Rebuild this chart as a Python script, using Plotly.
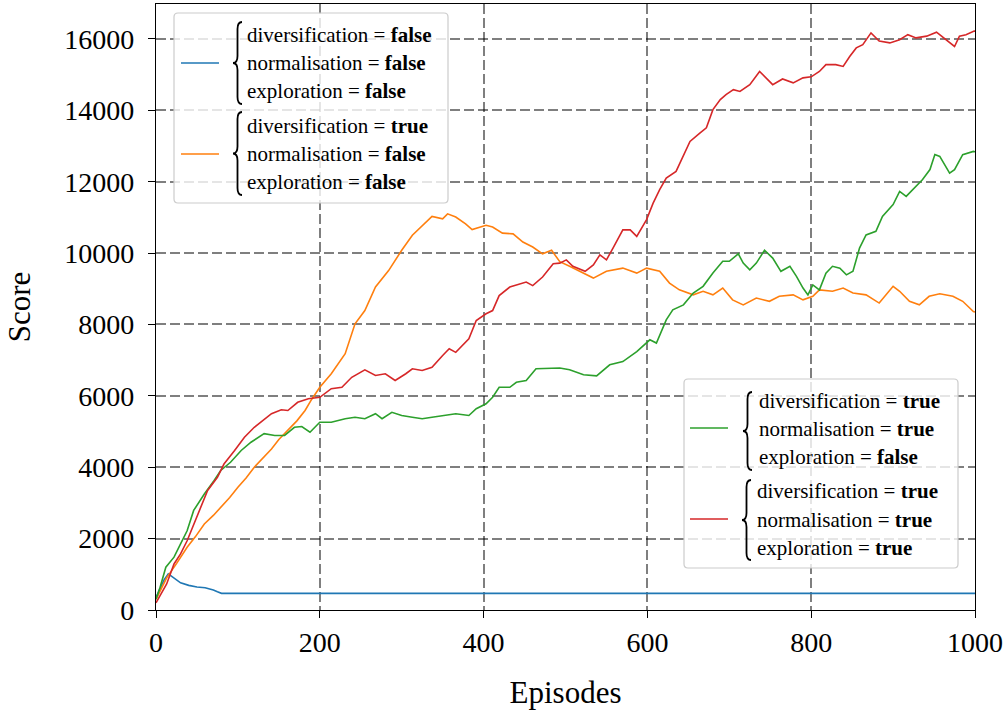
import plotly.graph_objects as go

# ---------------- data ----------------
blue_ep = [0, 5, 10, 15, 20, 25, 30, 40, 50, 60, 65, 70, 75, 80, 1000]
blue_val = [350, 600, 850, 1010, 920, 840, 760, 690, 645, 625, 600, 560, 510, 467, 467]

orange_ep = [0, 5, 13, 25, 38, 48, 59, 70, 79, 90, 100, 110, 120, 130, 141, 150, 161, 172, 182,
             190, 200, 214, 231, 243, 255, 268, 284, 300, 313, 325, 337, 350, 356, 366, 378, 386,
             403, 411, 423, 436, 448, 460, 472, 483, 493, 505, 521, 534, 550, 570, 587, 599,
             615, 627, 639, 656, 668, 680, 692, 704, 717, 733, 749, 761, 778, 790, 802, 810,
             826, 839, 851, 867, 883, 900, 908, 920, 932, 944, 957, 973, 985, 998, 1000]
orange_val = [300, 520, 900, 1300, 1760, 2050, 2410, 2650, 2880, 3150, 3440, 3700, 4000, 4250,
              4510, 4780, 5030, 5300, 5590, 5900, 6240, 6620, 7180, 8020, 8390, 9050, 9510,
              10080, 10500, 10780, 11030, 10960, 11100, 11010, 10820, 10660, 10780, 10730,
              10560, 10540, 10310, 10170, 9980, 10080, 9760, 9630, 9440, 9300, 9490, 9580,
              9440, 9580, 9490, 9160, 8970, 8830, 8930, 8830, 9020, 8690, 8550, 8740, 8650,
              8790, 8830, 8690, 8790, 8970, 8930, 9020, 8880, 8830, 8600, 9070, 8930, 8650,
              8550, 8790, 8860, 8790, 8650, 8360, 8350]

green_ep = [0, 5, 12, 22, 30, 38, 46, 59, 71, 79, 91, 104, 116, 132, 145, 157, 169, 178, 188,
            200, 214, 231, 243, 255, 268, 276, 288, 300, 313, 325, 337, 354, 366, 382, 391,
            403, 411, 419, 432, 440, 452, 464, 476, 489, 493, 505, 522, 538, 554, 570, 587,
            603, 611, 623, 631, 644, 656, 668, 680, 692, 700, 711, 717, 725, 733, 743, 753,
            763, 774, 782, 790, 796, 802, 810, 818, 826, 835, 843, 851, 859, 867, 879, 887,
            900, 908, 916, 924, 936, 945, 951, 957, 969, 975, 985, 998, 1000]
green_val = [300, 640, 1200, 1480, 1850, 2220, 2790, 3250, 3630, 3910, 4140, 4470, 4700, 4940,
             4890, 4890, 5120, 5140, 4980, 5260, 5260, 5360, 5400, 5360, 5500, 5360, 5540,
             5450, 5400, 5360, 5400, 5450, 5500, 5450, 5640, 5780, 5960, 6240, 6240, 6380,
             6430, 6760, 6760, 6760, 6780, 6730, 6590, 6560, 6870, 6960, 7240, 7570, 7480,
             8130, 8410, 8550, 8880, 9070, 9440, 9770, 9770, 9980, 9720, 9530, 9720, 10080,
             9860, 9490, 9630, 9350, 9020, 8830, 9110, 8970, 9440, 9630, 9580, 9390, 9490,
             10140, 10510, 10610, 11030, 11360, 11730, 11590, 11780, 12060, 12340, 12760,
             12710, 12240, 12340, 12760, 12850, 12840]

red_ep = [0, 5, 13, 22, 30, 38, 50, 63, 75, 83, 96, 108, 120, 128, 141, 153, 161, 173, 186,
          200, 214, 227, 239, 255, 268, 280, 292, 305, 313, 325, 337, 350, 358, 366, 382, 391,
          403, 411, 419, 432, 444, 452, 460, 472, 485, 493, 501, 509, 524, 534, 542, 550, 558,
          570, 579, 587, 599, 607, 615, 623, 635, 644, 652, 664, 672, 680, 689, 696, 705,
          713, 725, 737, 745, 753, 765, 778, 790, 800, 810, 818, 830, 839, 847, 855, 863,
          873, 883, 896, 908, 918, 928, 941, 953, 965, 975, 981, 989, 999, 1000]
red_val = [200, 400, 730, 1290, 1570, 1940, 2600, 3350, 3720, 4090, 4470, 4840, 5120, 5260,
           5500, 5610, 5590, 5820, 5920, 5960, 6200, 6240, 6520, 6730, 6570, 6620, 6430, 6620,
           6760, 6710, 6800, 7130, 7320, 7220, 7600, 8110, 8300, 8390, 8810, 9050, 9140, 9190,
           9090, 9330, 9700, 9720, 9810, 9630, 9490, 9670, 9950, 9810, 10140, 10650, 10650,
           10470, 10940, 11400, 11780, 12100, 12290, 12710, 13130, 13360, 13510, 14020, 14300,
           14440, 14580, 14530, 14720, 15090, 14910, 14720, 14880, 14770, 14910, 14940, 15090,
           15280, 15280, 15230, 15510, 15750, 15840, 16170, 15940, 15890, 15980, 16120, 16030,
           16080, 16190, 15980, 15790, 16080, 16120, 16220, 16220]

series_x = [blue_ep, orange_ep, green_ep, red_ep]
series_y = [blue_val, orange_val, green_val, red_val]
colors = ["#1f77b4", "#ff7f0e", "#2ca02c", "#d62728"]
settings = [("false", "false", "false"),
            ("true", "false", "false"),
            ("true", "true", "false"),
            ("true", "true", "true")]
setting_names = ["diversification", "normalisation", "exploration"]

x_ticks = [0, 200, 400, 600, 800, 1000]
y_ticks = [0, 2000, 4000, 6000, 8000, 10000, 12000, 14000, 16000]
y_tick_labels = [str(v) for v in y_ticks]

# ---------------- figure ----------------
FONT = "Liberation Serif"
W, H = 1006, 715
L, R, T, B = 156, 975, 4, 610


def px(xp):
    return (xp - L) / (R - L)


def py(yp):
    return (B - yp) / (B - T)


fig = go.Figure()
for xs, ys, c in zip(series_x, series_y, colors):
    fig.add_trace(go.Scatter(x=xs, y=ys, mode="lines",
                             line=dict(color=c, width=1.6), showlegend=False))

grid = dict(showgrid=True, gridcolor="rgba(0,0,0,0.5)", gridwidth=1.5,
            griddash="10px,4px")
fig.update_layout(
    width=W, height=H,
    margin=dict(l=L, r=W - R, t=T, b=H - B, autoexpand=False),
    paper_bgcolor="white", plot_bgcolor="white",
    font=dict(family=FONT, color="black"),
    xaxis=dict(range=[0, 1000], tickvals=x_ticks, ticks="outside", ticklen=7,
               tickwidth=1.2, tickcolor="black", showline=True, linecolor="black",
               linewidth=1.3, mirror=True, zeroline=False,
               tickfont=dict(family=FONT, size=28),
               title=dict(text="Episodes", font=dict(family=FONT, size=31), standoff=24),
               **grid),
    yaxis=dict(range=[0, 16980], tickvals=y_ticks, ticktext=y_tick_labels,
               ticks="outside", ticklen=7, tickwidth=1.2, tickcolor="black",
               showline=True, linecolor="black", linewidth=1.3, mirror=True,
               zeroline=False, tickfont=dict(family=FONT, size=28),
               ticklabelstandoff=8,
               title=dict(text="Score", font=dict(family=FONT, size=31), standoff=24),
               **grid),
)


def rounded_box(x0, y0, x1, y1, r=4):
    pts = [
        f"M {px(x0 + r)},{py(y0)}",
        f"L {px(x1 - r)},{py(y0)}",
        f"Q {px(x1)},{py(y0)} {px(x1)},{py(y0 + r)}",
        f"L {px(x1)},{py(y1 - r)}",
        f"Q {px(x1)},{py(y1)} {px(x1 - r)},{py(y1)}",
        f"L {px(x0 + r)},{py(y1)}",
        f"Q {px(x0)},{py(y1)} {px(x0)},{py(y1 - r)}",
        f"L {px(x0)},{py(y0 + r)}",
        f"Q {px(x0)},{py(y0)} {px(x0 + r)},{py(y0)} Z",
    ]
    return " ".join(pts)


def brace(xr, yt, yb, w=9, r=7):
    xs = xr - w / 2
    xt = xr - w
    ym = (yt + yb) / 2
    pts = [
        f"M {px(xr)},{py(yt)}",
        f"Q {px(xs)},{py(yt)} {px(xs)},{py(yt + r)}",
        f"L {px(xs)},{py(ym - r)}",
        f"Q {px(xs)},{py(ym)} {px(xt)},{py(ym)}",
        f"Q {px(xs)},{py(ym)} {px(xs)},{py(ym + r)}",
        f"L {px(xs)},{py(yb - r)}",
        f"Q {px(xs)},{py(yb)} {px(xr)},{py(yb)}",
    ]
    return " ".join(pts)


# legend layout (pixel positions of the two legend boxes)
legend_boxes = [(174, 13, 448, 203), (684, 379, 958, 568)]
entries = [
    (0, 63, 181, 219, 242, 22, 104, 245, [35, 63, 91]),
    (0, 154, 181, 219, 242, 112, 195, 245, [126, 154, 182]),
    (1, 428, 690, 728, 752, 392, 470, 757, [401, 429, 457]),
    (1, 519, 690, 728, 751, 480, 560, 755, [491, 520, 548]),
]

shapes = []
annotations = []
for (x0, y0, x1, y1) in legend_boxes:
    shapes.append(dict(type="path", xref="paper", yref="paper",
                       path=rounded_box(x0, y0, x1, y1),
                       fillcolor="rgba(255,255,255,0.8)",
                       line=dict(color="#cccccc", width=1.2), layer="above"))

for i, (bi, ly, lx0, lx1, bx, bt, bb, tx, tys) in enumerate(entries):
    shapes.append(dict(type="line", xref="paper", yref="paper",
                       x0=px(lx0), x1=px(lx1), y0=py(ly), y1=py(ly),
                       line=dict(color=colors[i], width=1.6), layer="above"))
    shapes.append(dict(type="path", xref="paper", yref="paper",
                       path=brace(bx, bt, bb), line=dict(color="black", width=1.8),
                       layer="above"))
    for name, val, ty in zip(setting_names, settings[i], tys):
        annotations.append(dict(xref="paper", yref="paper", x=px(tx), y=py(ty),
                                xanchor="left", yanchor="middle", showarrow=False,
                                text=f"{name} = <b>{val}</b>",
                                font=dict(family=FONT, size=21, color="black")))

fig.update_layout(shapes=shapes, annotations=annotations)
fig.write_html("out.html",
               config={"displayModeBar": False},
               post_script="document.body.style.margin='0px';"
                           "document.body.style.padding='0px';")
